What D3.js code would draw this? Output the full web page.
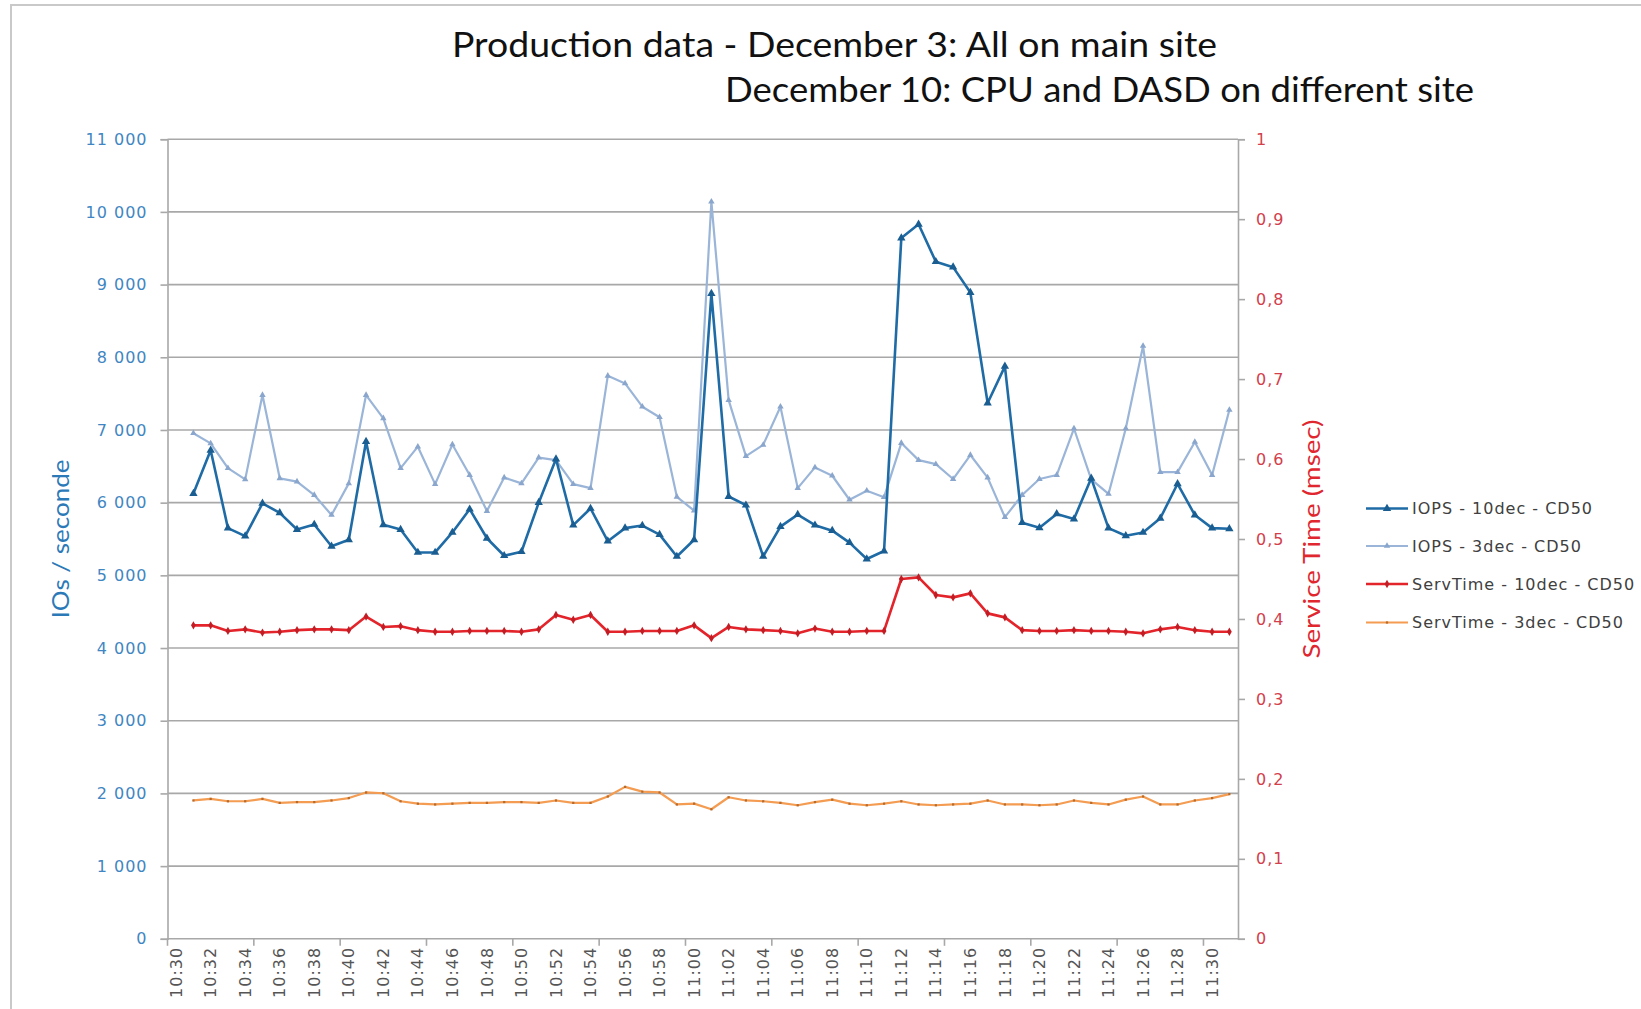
<!DOCTYPE html>
<html>
<head>
<meta charset="utf-8">
<script src="https://cdn.jsdelivr.net/npm/d3@7"></script>
<style>
  body { margin: 0; background: #ffffff; }
  svg { display: block; }
</style>
</head>
<body>
<svg id="chart" width="1641" height="1009"></svg>
<script>
// Minute-by-minute categories (10:30 has no sample)
const minutes = [
  "10:30","10:31","10:32","10:33","10:34","10:35","10:36","10:37","10:38","10:39",
  "10:40","10:41","10:42","10:43","10:44","10:45","10:46","10:47","10:48","10:49",
  "10:50","10:51","10:52","10:53","10:54","10:55","10:56","10:57","10:58","10:59",
  "11:00","11:01","11:02","11:03","11:04","11:05","11:06","11:07","11:08","11:09",
  "11:10","11:11","11:12","11:13","11:14","11:15","11:16","11:17","11:18","11:19",
  "11:20","11:21","11:22","11:23","11:24","11:25","11:26","11:27","11:28","11:29",
  "11:30","11:31"
];

// Labels shown on the time axis
const timeLabels = [
  "10:30","10:32","10:34","10:36","10:38","10:40","10:42","10:44","10:46","10:48",
  "10:50","10:52","10:54","10:56","10:58","11:00","11:02","11:04","11:06","11:08",
  "11:10","11:12","11:14","11:16","11:18","11:20","11:22","11:24","11:26","11:28","11:30"
];

// IOPS - 10dec - CD50
const iops10dec = [null,
  6125, 6720, 5650, 5540, 5990, 5860, 5630, 5700, 5400, 5490,
  6840, 5695, 5630, 5315, 5315, 5590, 5910, 5510, 5270, 5325,
  6000, 6600, 5690, 5920, 5470, 5650, 5685, 5560, 5260, 5490,
  8875, 6085, 5965, 5260, 5670, 5835, 5690, 5615, 5450, 5225,
  5335, 9640, 9830, 9315, 9240, 8890, 7370, 7875, 5725, 5655,
  5845, 5775, 6335, 5650, 5545, 5590, 5785, 6260, 5830, 5650, 5640];

// IOPS - 3dec - CD50
const iops3dec = [null,
  6955, 6815, 6475, 6320, 7480, 6335, 6290, 6105, 5830, 6265,
  7480, 7160, 6475, 6770, 6255, 6800, 6380, 5885, 6345, 6265,
  6620, 6585, 6255, 6200, 7745, 7640, 7320, 7175, 6080, 5890,
  10140, 7410, 6640, 6795, 7320, 6200, 6485, 6370, 6040, 6165,
  6075, 6820, 6585, 6530, 6325, 6655, 6345, 5800, 6105, 6325,
  6380, 7020, 6320, 6120, 7020, 8155, 6420, 6420, 6835, 6380, 7275];

// ServTime - 10dec - CD50 (msec)
const servTime10dec = [null,
  0.392, 0.392, 0.385, 0.387, 0.383, 0.384, 0.386, 0.387, 0.387, 0.386,
  0.403, 0.390, 0.391, 0.386, 0.384, 0.384, 0.385, 0.385, 0.385, 0.384,
  0.387, 0.405, 0.399, 0.405, 0.384, 0.384, 0.385, 0.385, 0.385, 0.392,
  0.376, 0.390, 0.387, 0.386, 0.385, 0.382, 0.388, 0.384, 0.384, 0.385,
  0.385, 0.450, 0.452, 0.430, 0.427, 0.432, 0.407, 0.402, 0.386, 0.385,
  0.385, 0.386, 0.385, 0.385, 0.384, 0.382, 0.387, 0.390, 0.386, 0.384, 0.384];

// ServTime - 3dec - CD50 (msec)
const servTime3dec = [null,
  0.173, 0.175, 0.172, 0.172, 0.175, 0.170, 0.171, 0.171, 0.173, 0.176,
  0.183, 0.182, 0.172, 0.169, 0.168, 0.169, 0.170, 0.170, 0.171, 0.171,
  0.170, 0.173, 0.170, 0.170, 0.178, 0.190, 0.184, 0.183, 0.168, 0.169,
  0.162, 0.177, 0.173, 0.172, 0.170, 0.167, 0.171, 0.174, 0.169, 0.167,
  0.169, 0.172, 0.168, 0.167, 0.168, 0.169, 0.173, 0.168, 0.168, 0.167,
  0.168, 0.173, 0.170, 0.168, 0.174, 0.178, 0.168, 0.168, 0.173, 0.176, 0.181];

const iopsTicks = [0, 1000, 2000, 3000, 4000, 5000, 6000, 7000, 8000, 9000, 10000, 11000];
const servTicks = [0, 0.1, 0.2, 0.3, 0.4, 0.5, 0.6, 0.7, 0.8, 0.9, 1];

const seriesNames = ["IOPS - 10dec - CD50", "IOPS - 3dec - CD50", "ServTime - 10dec - CD50", "ServTime - 3dec - CD50"];

// ---- layout ----
const svg = d3.select("#chart");
const plot = { left: 167.5, right: 1238, top: 139.2, bottom: 938.8 };

const x = d3.scaleBand().domain(minutes).range([plot.left, plot.right]).paddingInner(0).paddingOuter(0);
const cx = d => x(d) + x.bandwidth() / 2;
const yL = d3.scaleLinear().domain([0, 11000]).range([plot.bottom, plot.top]);
const yR = d3.scaleLinear().domain([0, 1]).range([plot.bottom, plot.top]);

const locale = d3.formatLocale({ decimal: ",", thousands: "\u00a0", grouping: [3], currency: ["", " €"] });
const fmtL = locale.format(",d");
const fmtR = d => String(d).replace(".", ",");

const smallText = sel => sel.style("font-family", "'DejaVu Sans', sans-serif")
  .style("font-size", "16px").style("letter-spacing", "1px");

// chart frame
svg.append("rect").attr("x", 0).attr("y", 0).attr("width", 1641).attr("height", 1009).attr("fill", "#fff");
svg.append("rect").attr("x", 11).attr("y", 5).attr("width", 1700).attr("height", 1100)
  .attr("fill", "none").attr("stroke", "#c9c9c9").attr("stroke-width", 2);

// titles
svg.append("text").attr("x", 452).attr("y", 57).attr("textLength", 765).attr("lengthAdjust", "spacingAndGlyphs")
  .style("font-family", "Lato, 'Open Sans', sans-serif").style("font-size", "35px").attr("fill", "#111")
  .text("Production data - December 3: All on main site");
svg.append("text").attr("x", 725).attr("y", 102).attr("textLength", 749).attr("lengthAdjust", "spacingAndGlyphs")
  .style("font-family", "Lato, 'Open Sans', sans-serif").style("font-size", "35px").attr("fill", "#111")
  .text("December 10: CPU and DASD on different site");

// horizontal gridlines
svg.append("g").selectAll("line").data(iopsTicks.filter(d => d > 0)).join("line")
  .attr("x1", plot.left).attr("x2", plot.right)
  .attr("y1", d => yL(d)).attr("y2", d => yL(d))
  .attr("stroke", "#a8a8a8").attr("stroke-width", 1.6);

// left axis
const axL = svg.append("g").attr("transform", `translate(${plot.left},0)`)
  .call(d3.axisLeft(yL).tickValues(iopsTicks).tickFormat(fmtL).tickSize(7).tickPadding(13));
axL.select(".domain").attr("stroke", "#a8a8a8").attr("stroke-width", 1.6);
axL.selectAll(".tick line").attr("stroke", "#a8a8a8").attr("stroke-width", 1.6);
axL.selectAll(".tick text").call(smallText).attr("fill", "#3f86c2");

// right axis
const axR = svg.append("g").attr("transform", `translate(${plot.right},0)`)
  .call(d3.axisRight(yR).tickValues(servTicks).tickFormat(fmtR).tickSize(7).tickPadding(11));
axR.select(".domain").attr("stroke", "#a8a8a8").attr("stroke-width", 1.6);
axR.selectAll(".tick line").attr("stroke", "#a8a8a8").attr("stroke-width", 1.6);
axR.selectAll(".tick text").call(smallText).attr("fill", "#d2404c");

// bottom category axis
svg.append("line").attr("x1", plot.left).attr("x2", plot.right).attr("y1", plot.bottom).attr("y2", plot.bottom)
  .attr("stroke", "#a8a8a8").attr("stroke-width", 1.6);
svg.append("g").selectAll("line").data(minutes.filter((d, i) => i % 5 === 0)).join("line")
  .attr("x1", d => x(d)).attr("x2", d => x(d))
  .attr("y1", plot.bottom).attr("y2", plot.bottom + 7)
  .attr("stroke", "#a8a8a8").attr("stroke-width", 1.6);
svg.append("g").selectAll("text").data(timeLabels).join("text")
  .attr("transform", d => `translate(${cx(d)},${plot.bottom + 8}) rotate(-90)`)
  .attr("text-anchor", "end").attr("dy", "0.35em")
  .call(smallText).attr("fill", "#555")
  .text(d => d);

// axis titles
svg.append("text").attr("transform", "translate(69,539) rotate(-90)").attr("text-anchor", "middle")
  .attr("textLength", 159).attr("lengthAdjust", "spacingAndGlyphs")
  .style("font-family", "Lato, 'Open Sans', sans-serif").style("font-size", "24px").attr("fill", "#2c79b8")
  .text("IOs / seconde");
svg.append("text").attr("transform", "translate(1320,539) rotate(-90)").attr("text-anchor", "middle")
  .attr("textLength", 239).attr("lengthAdjust", "spacingAndGlyphs")
  .style("font-family", "Lato, 'Open Sans', sans-serif").style("font-size", "24px").attr("fill", "#e0262f")
  .text("Service Time (msec)");

// series
const series = [
  { name: seriesNames[0], values: iops10dec, y: yL, color: "#1f6ba6", width: 2.6, symbol: d3.symbolTriangle, size: 30, mark: "#1a5d91" },
  { name: seriesNames[1], values: iops3dec, y: yL, color: "#9ab5d8", width: 2.2, symbol: d3.symbolTriangle, size: 18, mark: "#8aa6cc" },
  { name: seriesNames[2], values: servTime10dec, y: yR, color: "#e3242b", width: 2.6, symbol: d3.symbolDiamond, size: 20, mark: "#c21d24" },
  { name: seriesNames[3], values: servTime3dec, y: yR, color: "#f39c52", width: 2.2, symbol: d3.symbolSquare, size: 5, mark: "#b86a2a" }
];

const drawOrder = [3, 2, 1, 0];
drawOrder.forEach(k => {
  const s = series[k];
  const pts = minutes.map((m, i) => ({ m, v: s.values[i] }));
  const line = d3.line().defined(d => d.v != null).x(d => cx(d.m)).y(d => s.y(d.v));
  const g = svg.append("g");
  g.append("path").datum(pts).attr("d", line).attr("fill", "none")
    .attr("stroke", s.color).attr("stroke-width", s.width).attr("stroke-linejoin", "round");
  g.selectAll("path.mk").data(pts.filter(d => d.v != null)).join("path").attr("class", "mk")
    .attr("transform", d => `translate(${cx(d.m)},${s.y(d.v)})`)
    .attr("d", d3.symbol().type(s.symbol).size(s.size)).attr("fill", s.mark);
});

// legend
const legend = svg.append("g");
const legendRows = [508.5, 546, 584, 622.5];
series.forEach((s, i) => {
  const gy = legendRows[i];
  legend.append("line").attr("x1", 1366).attr("x2", 1408).attr("y1", gy).attr("y2", gy)
    .attr("stroke", s.color).attr("stroke-width", s.width);
  legend.append("path").attr("transform", `translate(1387,${gy})`)
    .attr("d", d3.symbol().type(s.symbol).size(s.size)).attr("fill", s.mark);
  legend.append("text").attr("x", 1412).attr("y", gy).attr("dy", "0.35em")
    .call(smallText).attr("fill", "#404040")
    .text(s.name);
});
</script>
</body>
</html>
